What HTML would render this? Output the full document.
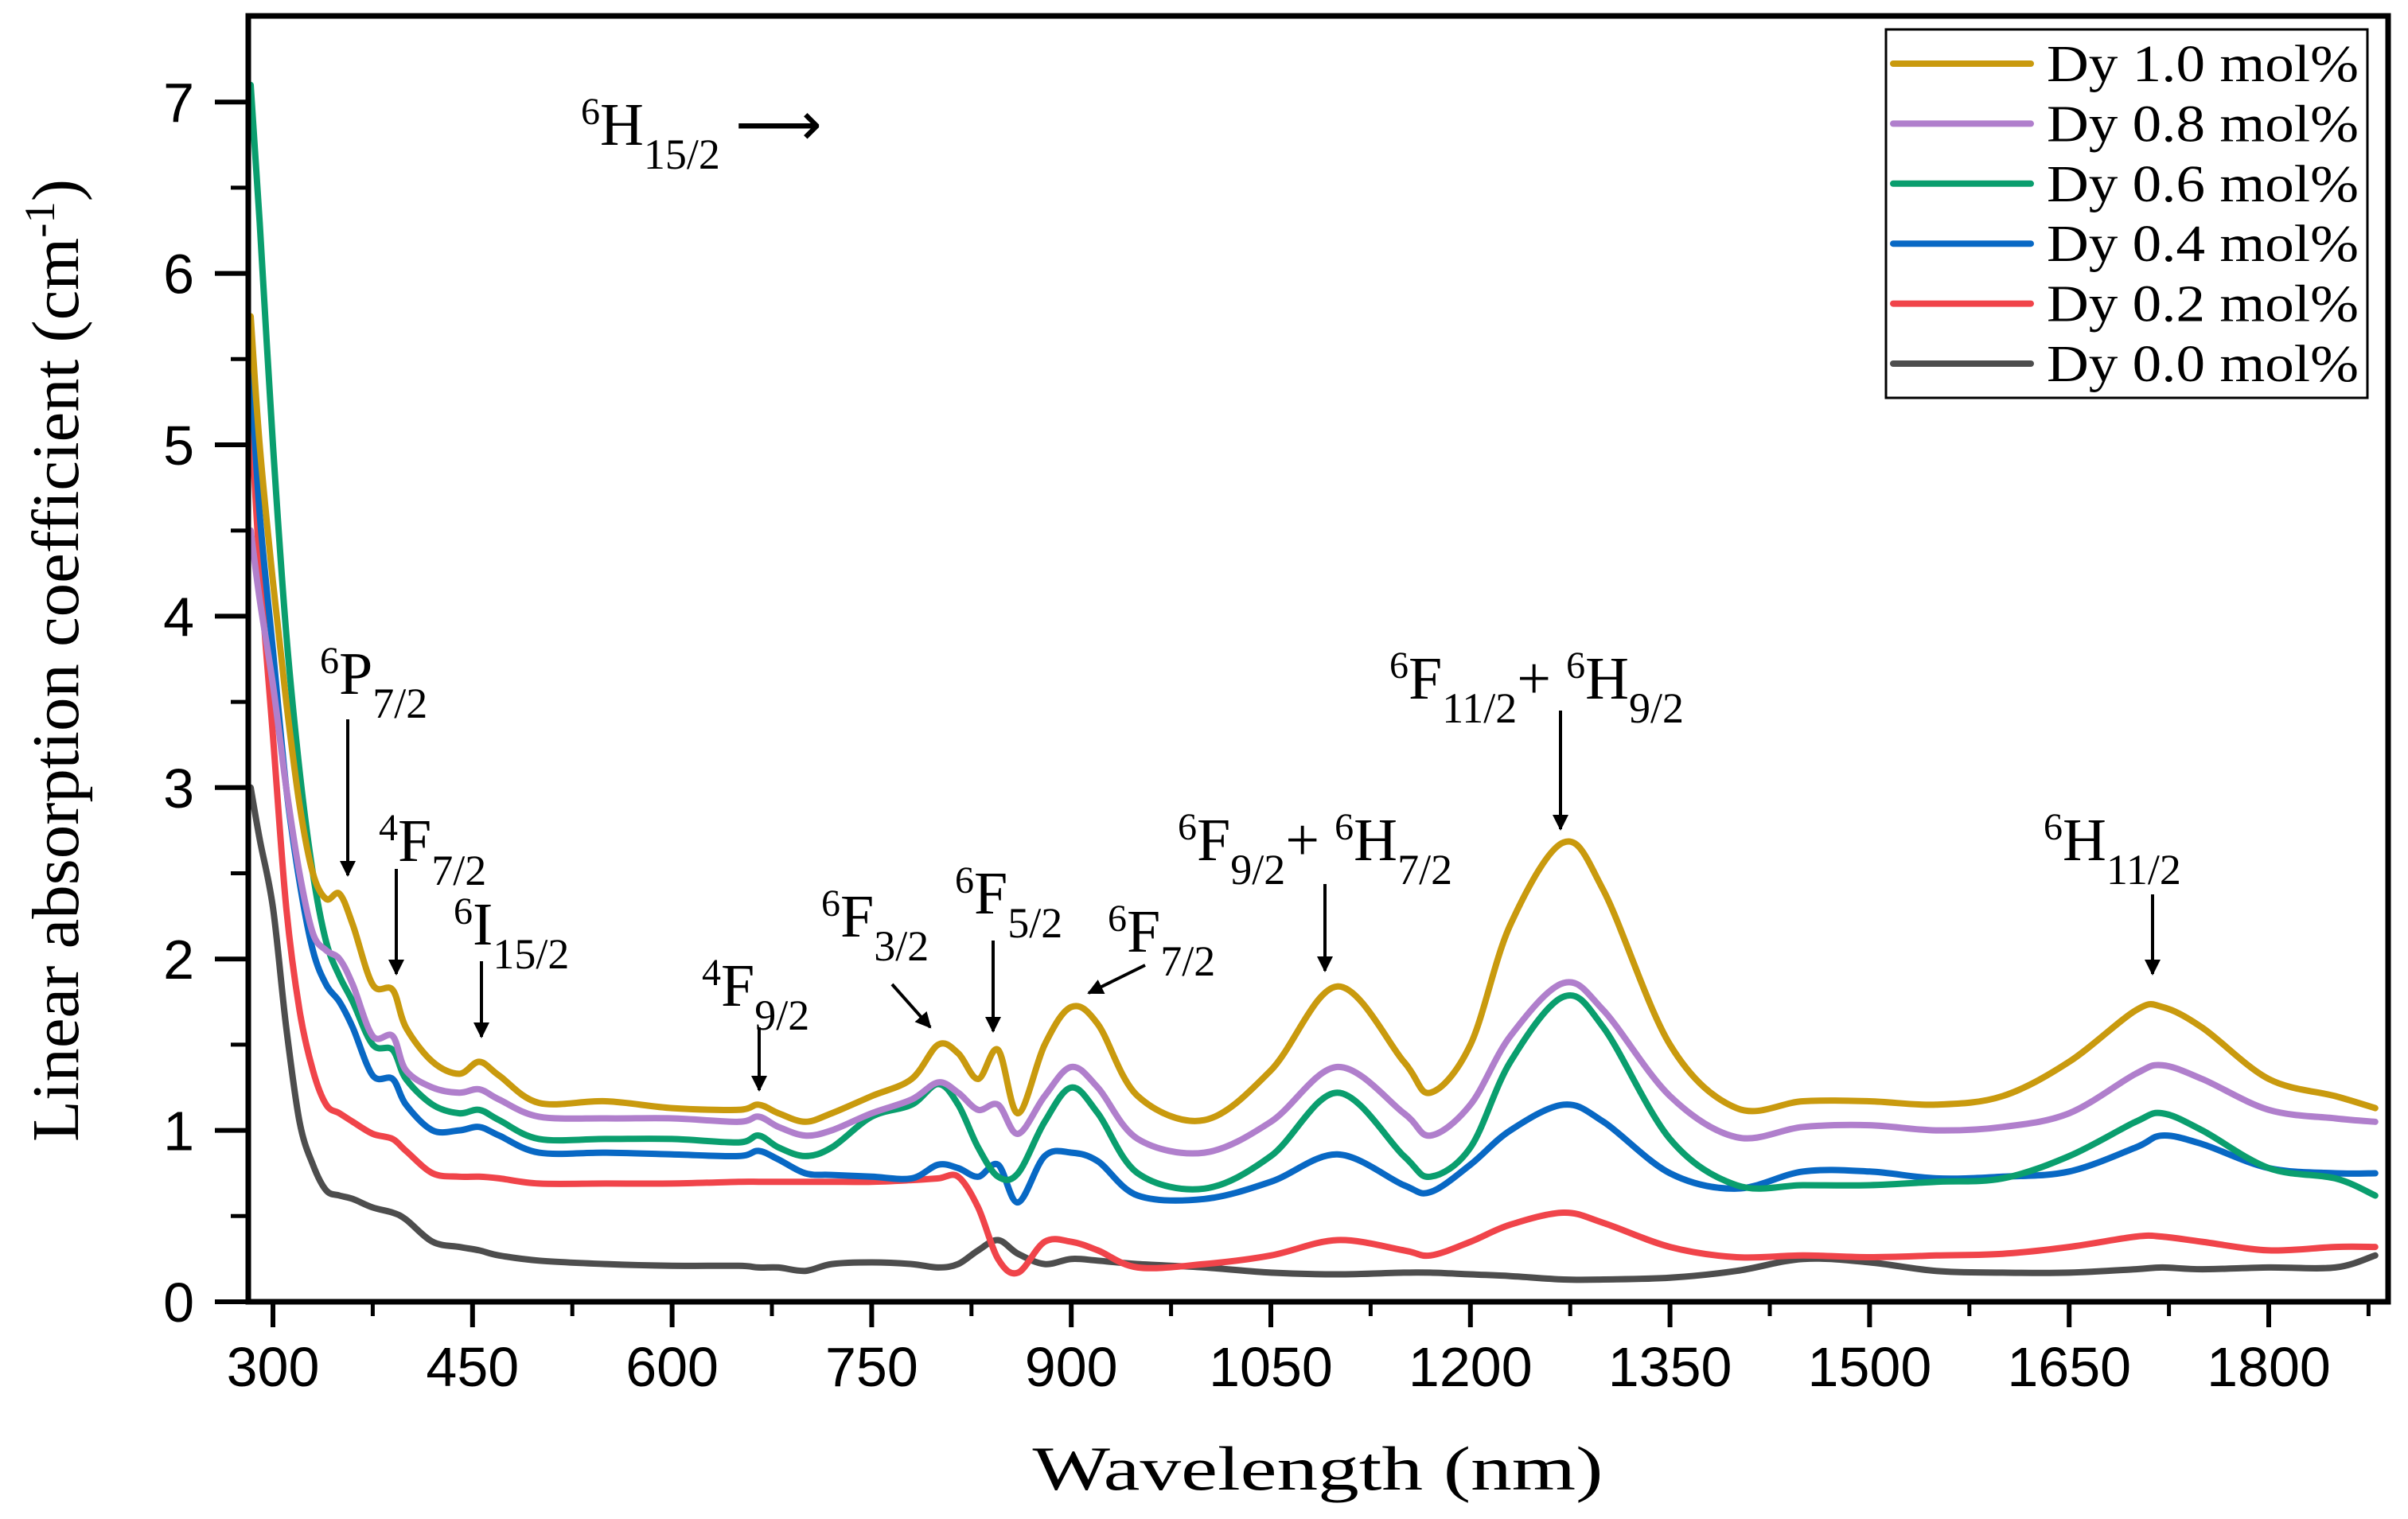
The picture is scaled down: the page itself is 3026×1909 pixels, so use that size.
<!DOCTYPE html>
<html><head><meta charset="utf-8"><style>
html,body{margin:0;padding:0;background:#fff;}
svg{display:block;}
.tk{font-family:"Liberation Sans",Arial,sans-serif;font-size:70px;fill:#000;}
.ser{font-family:"Liberation Serif","Times New Roman",serif;fill:#000;}
</style></head><body>
<svg id="chart" width="3026" height="1909" viewBox="0 0 3026 1909" xmlns="http://www.w3.org/2000/svg">
<defs><marker id="ah" viewBox="0 0 10 10" refX="9" refY="5" markerWidth="5" markerHeight="5" orient="auto"><path d="M0,0 L10,5 L0,10 z" fill="#000"/></marker></defs>
<rect width="3026" height="1909" fill="#fff"/>
<g id="series"></g>
<g id="axes"></g>
<text class="ser" transform="translate(98,830) rotate(-90)" text-anchor="middle" font-size="84" textLength="1210" lengthAdjust="spacingAndGlyphs">Linear absorption coefficient (cm<tspan baseline-shift="super" font-size="54">-1</tspan>)</text>
<text class="ser" x="1656" y="1872" text-anchor="middle" font-size="78" textLength="717" lengthAdjust="spacingAndGlyphs">Wavelength (nm)</text>
<g id="legend">
<rect x="2370" y="37" width="605" height="463" fill="#fff" stroke="#000" stroke-width="3"/>
</g>
<g id="ann" class="ser" font-size="76">
<text x="730" y="182"><tspan baseline-shift="super" font-size="48">6</tspan>H<tspan baseline-shift="sub" font-size="54">15/2</tspan> ⟶</text>
<text x="402" y="872"><tspan baseline-shift="super" font-size="48">6</tspan>P<tspan baseline-shift="sub" font-size="54">7/2</tspan></text>
<text x="476" y="1082"><tspan baseline-shift="super" font-size="48">4</tspan>F<tspan baseline-shift="sub" font-size="54">7/2</tspan></text>
<text x="570" y="1187"><tspan baseline-shift="super" font-size="48">6</tspan>I<tspan baseline-shift="sub" font-size="54">15/2</tspan></text>
<text x="882" y="1264"><tspan baseline-shift="super" font-size="48">4</tspan>F<tspan baseline-shift="sub" font-size="54">9/2</tspan></text>
<text x="1032" y="1177"><tspan baseline-shift="super" font-size="48">6</tspan>F<tspan baseline-shift="sub" font-size="54">3/2</tspan></text>
<text x="1200" y="1148"><tspan baseline-shift="super" font-size="48">6</tspan>F<tspan baseline-shift="sub" font-size="54">5/2</tspan></text>
<text x="1392" y="1196"><tspan baseline-shift="super" font-size="48">6</tspan>F<tspan baseline-shift="sub" font-size="54">7/2</tspan></text>
<text x="1480" y="1081"><tspan baseline-shift="super" font-size="48">6</tspan>F<tspan baseline-shift="sub" font-size="54">9/2</tspan>+ <tspan baseline-shift="super" font-size="48">6</tspan>H<tspan baseline-shift="sub" font-size="54">7/2</tspan></text>
<text x="1746" y="878"><tspan baseline-shift="super" font-size="48">6</tspan>F<tspan baseline-shift="sub" font-size="54">11/2</tspan>+ <tspan baseline-shift="super" font-size="48">6</tspan>H<tspan baseline-shift="sub" font-size="54">9/2</tspan></text>
<text x="2568" y="1081"><tspan baseline-shift="super" font-size="48">6</tspan>H<tspan baseline-shift="sub" font-size="54">11/2</tspan></text>
<g stroke="#000" stroke-width="4" marker-end="url(#ah)">
<line x1="437" y1="904" x2="437" y2="1100"/>
<line x1="498" y1="1092" x2="498" y2="1224"/>
<line x1="605" y1="1208" x2="605" y2="1303"/>
<line x1="954" y1="1291" x2="954" y2="1370"/>
<line x1="1121" y1="1237" x2="1169" y2="1291"/>
<line x1="1248" y1="1182" x2="1248" y2="1296"/>
<line x1="1439" y1="1213" x2="1368" y2="1248"/>
<line x1="1665" y1="1111" x2="1665" y2="1220"/>
<line x1="1961" y1="893" x2="1961" y2="1042"/>
<line x1="2705" y1="1124" x2="2705" y2="1224"/>
</g>
</g>
</svg>
<script>
const wavelengths=[280,290,300,310,320,330,340,350,360,375,390,400,420,440,455,470,500,550,600,650,665,680,700,720,750,780,800,815,830,845,860,880,900,920,950,1000,1050,1100,1150,1170,1200,1230,1270,1300,1350,1400,1450,1500,1550,1600,1650,1700,1720,1750,1800,1850,1880];
const dy10=[5.75,5.0,4.2,3.5,2.9,2.5,2.35,2.38,2.2,1.85,1.82,1.6,1.4,1.33,1.4,1.32,1.16,1.17,1.13,1.12,1.15,1.1,1.05,1.1,1.2,1.3,1.5,1.45,1.3,1.47,1.1,1.5,1.72,1.62,1.2,1.06,1.35,1.84,1.4,1.22,1.5,2.2,2.68,2.4,1.5,1.13,1.17,1.17,1.15,1.2,1.4,1.7,1.72,1.6,1.3,1.2,1.13];
const dy08=[4.5,4.1,3.6,3.0,2.5,2.15,2.05,2.0,1.85,1.55,1.55,1.35,1.25,1.22,1.24,1.18,1.08,1.07,1.07,1.05,1.08,1.02,0.97,1.0,1.1,1.18,1.28,1.22,1.12,1.15,0.98,1.2,1.37,1.25,0.95,0.87,1.05,1.37,1.1,0.97,1.15,1.55,1.86,1.7,1.2,0.96,1.02,1.03,1.0,1.02,1.1,1.33,1.38,1.3,1.12,1.07,1.05];
const dy06=[7.1,6.3,5.0,3.9,3.1,2.5,2.1,1.9,1.75,1.5,1.47,1.3,1.15,1.1,1.12,1.06,0.95,0.95,0.95,0.93,0.97,0.9,0.85,0.9,1.08,1.15,1.27,1.15,0.9,0.73,0.75,1.05,1.25,1.1,0.75,0.66,0.85,1.22,0.85,0.73,0.9,1.4,1.78,1.6,0.95,0.68,0.68,0.68,0.7,0.72,0.85,1.05,1.1,1.0,0.78,0.72,0.62];
const dy04=[5.45,4.6,3.8,3.0,2.45,2.05,1.85,1.75,1.6,1.32,1.3,1.15,1.0,1.0,1.02,0.97,0.87,0.87,0.86,0.85,0.88,0.83,0.75,0.74,0.73,0.72,0.8,0.78,0.73,0.8,0.58,0.85,0.87,0.82,0.62,0.6,0.7,0.86,0.68,0.64,0.8,1.0,1.15,1.05,0.75,0.66,0.76,0.76,0.72,0.73,0.76,0.9,0.97,0.92,0.78,0.75,0.75];
const dy02=[5.2,4.3,3.3,2.3,1.7,1.35,1.15,1.1,1.05,0.98,0.95,0.88,0.75,0.73,0.73,0.72,0.69,0.69,0.69,0.7,0.7,0.7,0.7,0.7,0.7,0.71,0.72,0.73,0.55,0.25,0.17,0.35,0.35,0.3,0.2,0.22,0.27,0.36,0.3,0.27,0.35,0.45,0.52,0.46,0.32,0.26,0.27,0.26,0.27,0.28,0.32,0.38,0.38,0.35,0.3,0.32,0.32];
const dy00=[3.0,2.7,2.3,1.6,1.05,0.8,0.65,0.62,0.6,0.55,0.52,0.48,0.35,0.32,0.3,0.27,0.24,0.22,0.21,0.21,0.2,0.2,0.18,0.22,0.23,0.22,0.2,0.22,0.3,0.36,0.28,0.22,0.25,0.24,0.22,0.2,0.17,0.16,0.17,0.17,0.16,0.15,0.13,0.13,0.14,0.18,0.25,0.23,0.18,0.17,0.17,0.19,0.2,0.19,0.2,0.2,0.27];
const seriesNames=["Dy 1.0 mol%","Dy 0.8 mol%","Dy 0.6 mol%","Dy 0.4 mol%","Dy 0.2 mol%","Dy 0.0 mol%"];
const xTicks=[300,450,600,750,900,1050,1200,1350,1500,1650,1800];
const yTicks=[0,1,2,3,4,5,6,7];

const NS="http://www.w3.org/2000/svg";
const L=312,R=3001,T=20,B=1636;
function xs(w){return 343+(w-300)*(2851-343)/1500;}
function ys(v){return 1636-v*215.4;}
function mk(tag,attrs,parent){const e=document.createElementNS(NS,tag);for(const k in attrs)e.setAttribute(k,attrs[k]);parent.appendChild(e);return e;}
const colors=["#C99A0E","#B07FCC","#0A9E6E","#0868C4","#F0444A","#4D4D4D"];
const data=[dy10,dy08,dy06,dy04,dy02,dy00];
const keys=["dy-1-0","dy-0-8","dy-0-6","dy-0-4","dy-0-2","dy-0-0"];
const sg=document.getElementById("series");
function smoothPath(pts){let d="M"+pts[0][0].toFixed(1)+","+pts[0][1].toFixed(1);
for(let i=0;i<pts.length-1;i++){const p0=pts[i-1]||pts[i],p1=pts[i],p2=pts[i+1],p3=pts[i+2]||p2;
const c1=[p1[0]+(p2[0]-p0[0])/6,p1[1]+(p2[1]-p0[1])/6],c2=[p2[0]-(p3[0]-p1[0])/6,p2[1]-(p3[1]-p1[1])/6];
d+=" C"+c1[0].toFixed(1)+","+c1[1].toFixed(1)+" "+c2[0].toFixed(1)+","+c2[1].toFixed(1)+" "+p2[0].toFixed(1)+","+p2[1].toFixed(1);}return d;}
for(let s=data.length-1;s>=0;s--){
  const pts=wavelengths.map((w,i)=>[Math.max(xs(w),L+3),ys(data[s][i])]);
  const p=mk("path",{d:smoothPath(pts),fill:"none",stroke:colors[s],"stroke-width":8,"stroke-linejoin":"round","stroke-linecap":"round"},sg);
  
  
}
const ax=document.getElementById("axes");
const frame=mk("rect",{x:L,y:T,width:R-L,height:B-T,fill:"none",stroke:"#000","stroke-width":7},ax);


xTicks.forEach(w=>{
  const x=xs(w);
  const t=mk("line",{x1:x,y1:B,x2:x,y2:B+32,stroke:"#000","stroke-width":6},ax);
  
  
  const m=mk("line",{x1:xs(w+75),y1:B,x2:xs(w+75),y2:B+18,stroke:"#000","stroke-width":5},ax);
  
  
  const lb=mk("text",{x:x,y:B+106,"text-anchor":"middle",class:"tk"},ax);
  lb.textContent=w;
  
  
});
yTicks.forEach(v=>{
  const y=ys(v);
  const t=mk("line",{x1:L-42,y1:y,x2:L,y2:y,stroke:"#000","stroke-width":6},ax);
  
  
  if(v<7){const m=mk("line",{x1:L-22,y1:ys(v+0.5),x2:L,y2:ys(v+0.5),stroke:"#000","stroke-width":5},ax);
  
  }
  const lb=mk("text",{x:L-68,y:y+25,"text-anchor":"end",class:"tk"},ax);
  lb.textContent=v;
  
  
});
const lg=document.getElementById("legend");
seriesNames.forEach((n,i)=>{
  const y=80+i*75.4;
  const g=mk("g",{},lg);
  
  
  mk("line",{x1:2379,y1:y,x2:2552,y2:y,stroke:colors[i],"stroke-width":8,"stroke-linecap":"round"},g);
  const t=mk("text",{x:2572,y:y+22,class:"ser","font-size":66,textLength:392,lengthAdjust:"spacingAndGlyphs"},g);
  t.textContent=n;
});
</script>
</body></html>
